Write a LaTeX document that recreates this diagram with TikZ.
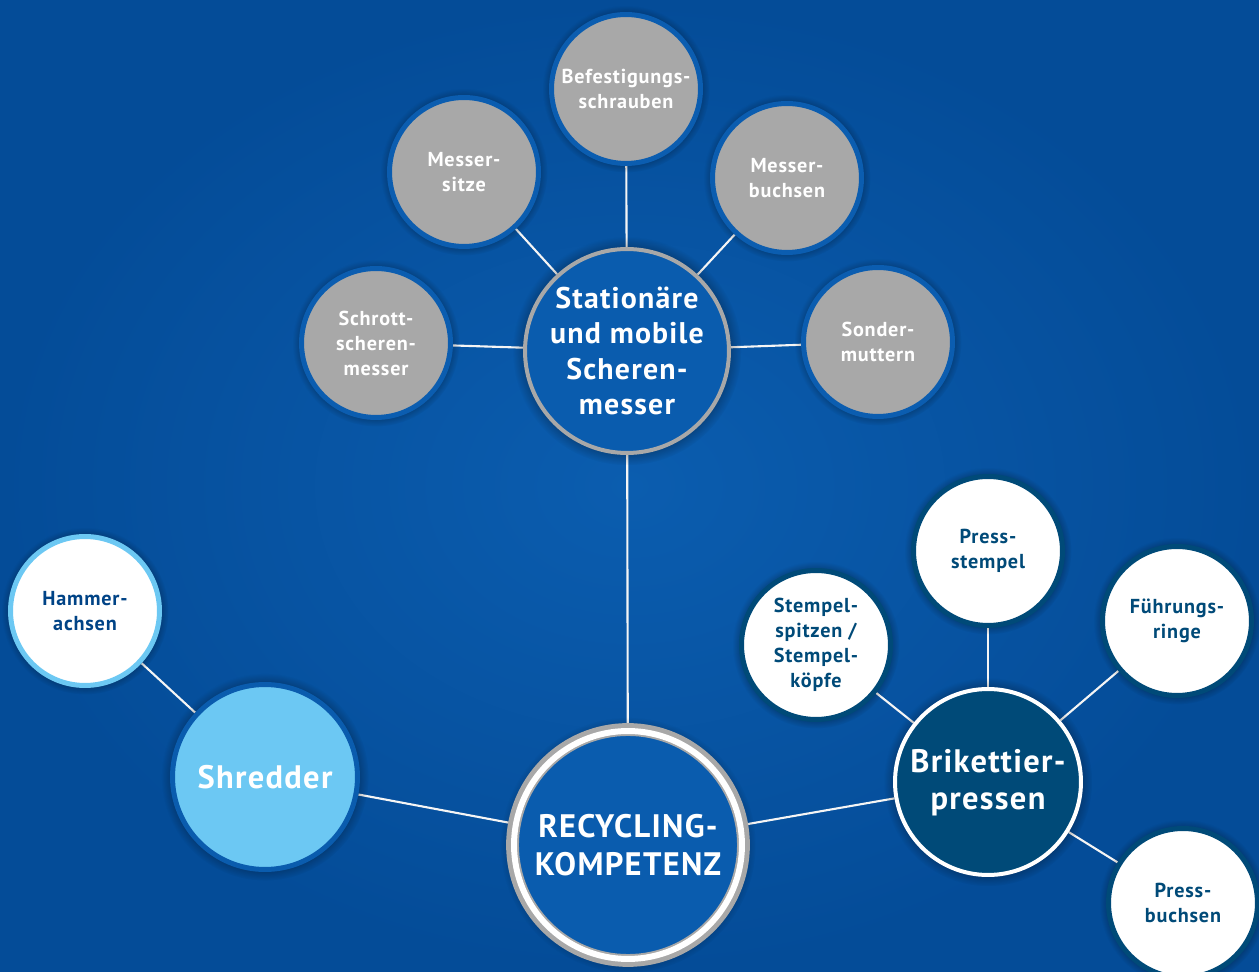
\documentclass[tikz,border=0pt]{standalone}
\usepackage{fontspec}
\setmainfont{PT Sans}[LetterSpace=4]
\usetikzlibrary{backgrounds,shadows}
\definecolor{bgout}{HTML}{044C98}
\definecolor{bgin}{HTML}{0B5DAF}
\definecolor{midblue}{HTML}{0A5CAE}
\definecolor{rimblue}{HTML}{0B5DB0}
\definecolor{ringgray}{HTML}{A8A8A8}
\definecolor{skyblue}{HTML}{6CC8F3}
\definecolor{navy}{HTML}{004A78}
\begin{document}
\begin{tikzpicture}[x=0.02cm, y=-0.02cm,
    glow/.style={circular drop shadow={shadow xshift=0pt, shadow yshift=0pt,
                 shadow scale=1.12, fill=black, opacity=0.35}},
    hub/.style={circle, glow, align=center, text=white, inner sep=0pt,
                font=\bfseries\fontsize{17}{20}\selectfont},
    leaf/.style={circle, glow, align=center, inner sep=0pt, minimum size=2.98cm,
                 line width=0.1cm, font=\bfseries\fontsize{11.5}{14.2}\selectfont},
    grayleaf/.style={leaf, fill=ringgray, draw=rimblue, text=white},
    whiteleaf/.style={leaf, fill=white, draw=navy, text=navy},
    link/.style={draw=white!92!gray, line width=1.2pt},
  ]
    \useasboundingbox (0,0) rectangle (1259,972);

    % centre
    \node[hub, minimum size=4.56cm, fill=midblue, draw=ringgray, line width=1.1pt,
          double=white, double distance=3.4pt,
          preaction={draw=ringgray, line width=9pt},
          font=\bfseries\fontsize{18.5}{21.5}\selectfont] (rc) at (628,845)
          {RECYCLING-\\KOMPETENZ};

    % Scherenmesser
    \node[hub, minimum size=4.08cm, fill=midblue, draw=ringgray, line width=0.08cm]
          (sm) at (627,351) {Stationäre\\und mobile\\Scheren-\\messer};
    \node[grayleaf] (bs) at (626,89)  {Befestigungs-\\schrauben};
    \node[grayleaf] (ms) at (464,172) {Messer-\\sitze};
    \node[grayleaf] (mb) at (787,178) {Messer-\\buchsen};
    \node[grayleaf] (ss) at (376,343) {Schrott-\\scheren-\\messer};
    \node[grayleaf] (sn) at (878,342) {Sonder-\\muttern};

    % Shredder
    \node[hub, minimum size=3.7cm, fill=skyblue, draw=midblue, line width=0.1cm,
          font=\bfseries\fontsize{18.5}{21.5}\selectfont] (sh) at (265,777) {Shredder};
    \node[whiteleaf, draw=skyblue, text=navy!90!blue] (ha) at (85,611) {Hammer-\\achsen};

    % Brikettierpressen
    \node[hub, minimum size=3.72cm, fill=navy, draw=white, line width=0.08cm,
          font=\bfseries\fontsize{18.5}{21.5}\selectfont] (bp) at (988,782)
          {\rule{0pt}{14pt}Brikettier-\\pressen};
    \node[whiteleaf] (ps) at (988,551)  {Press-\\stempel};
    \node[whiteleaf] (sp) at (816,645)  {Stempel-\\spitzen /\\Stempel-\\köpfe};
    \node[whiteleaf] (fr) at (1177,621) {Führungs-\\ringe};
    \node[whiteleaf] (pb) at (1183,903) {Press-\\buchsen};

    \begin{scope}[on background layer]
      \shade[inner color=bgin, outer color=bgout] (0,0) rectangle (1259,972);
      \draw[link] (rc) -- (sm);
      \draw[link] (rc) -- (sh);
      \draw[link] (rc) -- (bp);
      \foreach \n in {bs,ms,mb,ss,sn} \draw[link] (sm) -- (\n);
      \draw[link] (sh) -- (ha);
      \foreach \n in {ps,sp,fr,pb} \draw[link] (bp) -- (\n);
    \end{scope}
  \end{tikzpicture}
\end{document}
